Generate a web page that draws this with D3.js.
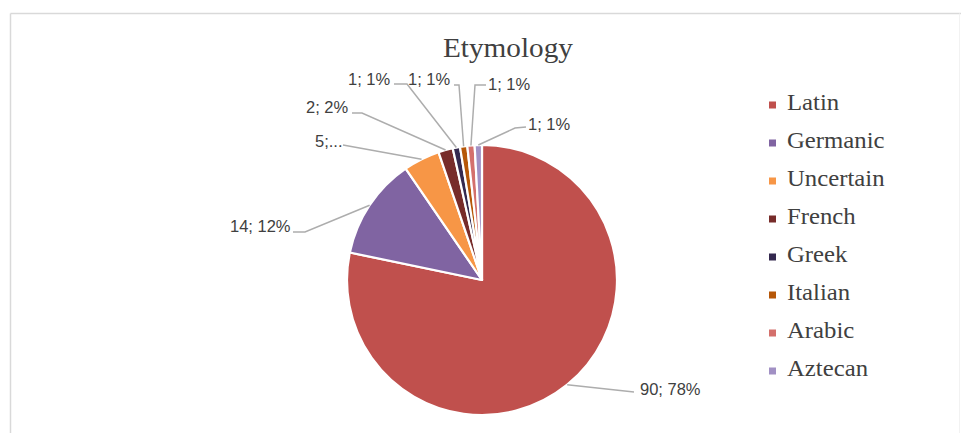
<!DOCTYPE html>
<html>
<head>
<meta charset="utf-8">
<script src="https://cdn.jsdelivr.net/npm/d3@7"></script>
<style>
  html, body { margin: 0; padding: 0; background: #ffffff; }
  svg { display: block; }
</style>
</head>
<body>
<div id="chart"></div>
<script>
// ---- Data ----
const categories = ["Latin", "Germanic", "Uncertain", "French", "Greek", "Italian", "Arabic", "Aztecan"];
const counts = [90, 14, 5, 2, 1, 1, 1, 1];
const colors = ["#c0504d", "#8064a2", "#f79646", "#772c2a", "#34294f", "#b65708", "#d4706c", "#a190c4"];
const truncatedLabels = ["Uncertain"];   // labels shown cut off as "5;..." in the original
const chartTitle = "Etymology";

// ---- Layout (label anchors and leader-line bends, not data) ----
const W = 961, H = 433;
const cx = 482, cy = 280, R = 135;
const labelLayout = {
  "Latin":     { x: 640, y: 395, bends: [[634, 392]] },
  "Germanic":  { x: 230, y: 232, bends: [[305, 232], [293, 232]] },
  "Uncertain": { x: 315, y: 147, bends: [[343, 145]] },
  "French":    { x: 306, y: 113, bends: [[362, 113], [352, 113]] },
  "Greek":     { x: 348, y: 85,  bends: [[407, 84], [394, 84]] },
  "Italian":   { x: 408, y: 85,  bends: [[459, 85], [454, 85]] },
  "Arabic":    { x: 488, y: 90,  bends: [[475, 85], [486, 85]] },
  "Aztecan":   { x: 528, y: 130, bends: [[515, 128], [526, 127]] }
};

const total = d3.sum(counts);
const data = categories.map((c, i) => ({ name: c, value: counts[i], color: colors[i] }));

const svg = d3.select("#chart").append("svg")
  .attr("width", W).attr("height", H);

// chart-area border (top + left visible, faint right)
svg.append("line").attr("x1", 10.5).attr("y1", 13.5).attr("x2", W).attr("y2", 13.5)
  .attr("stroke", "#d9d9d9").attr("stroke-width", 1.5);
svg.append("line").attr("x1", 10.5).attr("y1", 13.5).attr("x2", 10.5).attr("y2", H)
  .attr("stroke", "#d9d9d9").attr("stroke-width", 1.5);
svg.append("line").attr("x1", 959.5).attr("y1", 13.5).attr("x2", 959.5).attr("y2", H)
  .attr("stroke", "#f2f2f2").attr("stroke-width", 1);

// title
svg.append("text")
  .attr("x", 508).attr("y", 57)
  .attr("text-anchor", "middle")
  .attr("font-family", "'Liberation Serif', 'Times New Roman', serif")
  .attr("font-size", 27)
  .attr("fill", "#404040")
  .attr("textLength", 130)
  .attr("lengthAdjust", "spacingAndGlyphs")
  .text(chartTitle);

// pie
const pie = d3.pie().value(d => d.value).sort(null);
const arcs = pie(data);
const arc = d3.arc().innerRadius(0).outerRadius(R);

const g = svg.append("g").attr("transform", `translate(${cx},${cy})`);
g.selectAll("path.slice").data(arcs).join("path")
  .attr("class", "slice")
  .attr("d", arc)
  .attr("fill", d => d.data.color)
  .attr("stroke", "#ffffff")
  .attr("stroke-width", 2.2)
  .attr("stroke-linejoin", "round");

// leader lines + labels
const line = d3.line();
arcs.forEach(d => {
  const L = labelLayout[d.data.name];
  const mid = (d.startAngle + d.endAngle) / 2;
  const start = [cx + R * Math.sin(mid), cy - R * Math.cos(mid)];
  svg.append("path")
    .attr("d", line([start, ...L.bends]))
    .attr("fill", "none")
    .attr("stroke", "#adadad")
    .attr("stroke-width", 1.5);
  const pct = Math.round(d.data.value / total * 100);
  const txt = truncatedLabels.includes(d.data.name)
    ? `${d.data.value};...`
    : `${d.data.value}; ${pct}%`;
  svg.append("text")
    .attr("x", L.x).attr("y", L.y)
    .attr("font-family", "'Liberation Sans', Arial, sans-serif")
    .attr("font-size", 16.5)
    .attr("fill", "#404040")
    .text(txt);
});

// legend
const legend = svg.append("g");
data.forEach((d, i) => {
  const y = 110 + i * 38;
  legend.append("rect")
    .attr("x", 769).attr("y", y - 8.5)
    .attr("width", 7).attr("height", 7)
    .attr("fill", d.color);
  legend.append("g")
    .attr("transform", `translate(787,${y}) scale(1.1,1)`)
    .append("text")
    .attr("x", 0).attr("y", 0)
    .attr("font-family", "'Liberation Serif', 'Times New Roman', serif")
    .attr("font-size", 22.5)
    .attr("fill", "#404040")
    .text(d.name);
});
</script>
</body>
</html>
